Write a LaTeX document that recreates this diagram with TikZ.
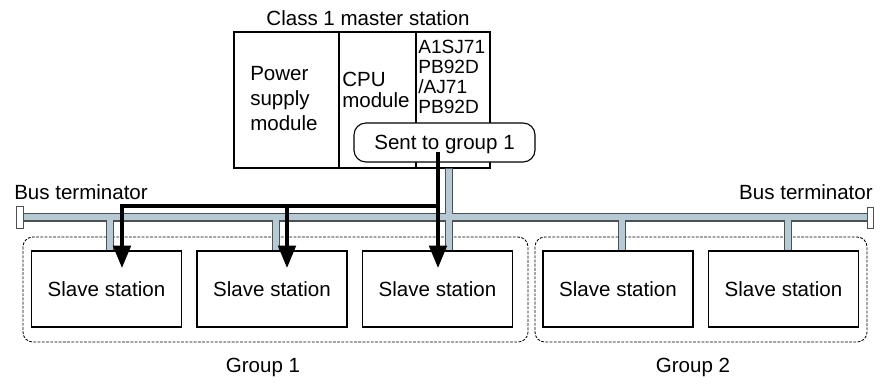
\documentclass[tikz,border=0pt]{standalone}
\usepackage{fontspec}
\setmainfont{Liberation Sans}
\usetikzlibrary{arrows.meta}
\definecolor{busfill}{RGB}{183,201,210}
\definecolor{busedge}{RGB}{75,80,85}

\begin{document}
\begin{tikzpicture}[x=0.025cm,y=-0.025cm,
  every node/.style={font=\fontsize{14.6}{17.5}\selectfont, inner sep=0pt},
  slave/.style={draw, fill=white, line width=0.8pt, minimum width=3.75cm, minimum height=1.9cm},
  group/.style={draw, line width=0.6pt, dash pattern=on 2pt off 1pt, rounded corners=7pt},
  sendline/.style={line width=2.5pt},
  sendarrow/.style={sendline, -{Triangle[width=12.5pt,length=16pt]}}]
\useasboundingbox (0,0) rectangle (880,383);

% groups
\draw[group] (23,237) rectangle (528,342);
\draw[group] (535,237) rectangle (867,342);
\node[text depth=0pt] (g1) at (263,365) {Group 1};
\node[text depth=0pt] (g2) at (693,365) {Group 2};

% master station
\node (title) at (368,18) {Class 1 master station};
\node[draw, line width=0.8pt, minimum width=6.4cm, minimum height=3.4cm] (master) at (362,100) {};
\draw[line width=0.8pt] (339,32) -- (339,168);
\draw[line width=0.8pt] (416,32) -- (416,168);
\node[anchor=west, align=left, font=\fontsize{14.6}{17.8}\selectfont] (psu) at (250,99) {Power\\supply\\module};
\node[anchor=west, align=left, font=\fontsize{14.6}{14.9}\selectfont] (cpu) at (342,89.5) {CPU\\module};
\node[anchor=west, align=left, font=\fontsize{13.6}{14.2}\selectfont] (mod) at (418,77) {A1SJ71\\PB92D\\/AJ71\\PB92D};
\node[draw, fill=white, line width=0.8pt, rounded corners=8.5pt, text depth=0pt,
  minimum width=4.525cm, minimum height=0.975cm] (sent) at (444.5,142.5) {Sent to group 1};

% bus
\coordinate (busL) at (23,217);
\coordinate (busR) at (867,217);
\draw[busedge, line width=6.4pt] (busL) -- (busR);
\draw[busedge, line width=5.3pt] (449,168) -- (449,217);
\foreach \x in {110,276,449,622,788}
  \draw[busedge, line width=5.3pt] (\x,217) -- (\x,251);
\draw[busfill, line width=4.8pt] (busL) -- (busR);
\draw[busfill, line width=3.6pt] (449,168.6) -- (449,217);
\foreach \x in {110,276,449,622,788}
  \draw[busfill, line width=3.6pt] (\x,217) -- (\x,251);
\draw[busedge, fill=white, line width=0.6pt] (16,206) rectangle (23,228);
\draw[busedge, fill=white, line width=0.6pt] (867,207) rectangle (873,228);
\node[anchor=west] (btl) at (14,192) {Bus terminator};
\node[anchor=east] (btr) at (873,192) {Bus terminator};

% slave stations
\foreach \n/\x in {1/106.5,2/272,3/437.5,4/618,5/783.5}
  \node[slave] (s\n) at (\x,289) {Slave station};

% data sent to group 1
\coordinate (src) at (438,152);
\coordinate (tee) at (438,206);
\coordinate (b2) at (287,206);
\coordinate (a1) at (122,268);
\coordinate (a2) at (287,268);
\coordinate (a3) at (438,268);
\draw[sendarrow] (src) -- (a3);
\draw[sendarrow] (tee) -| (a1);
\draw[sendarrow] (b2) -- (a2);
\end{tikzpicture}
\end{document}
